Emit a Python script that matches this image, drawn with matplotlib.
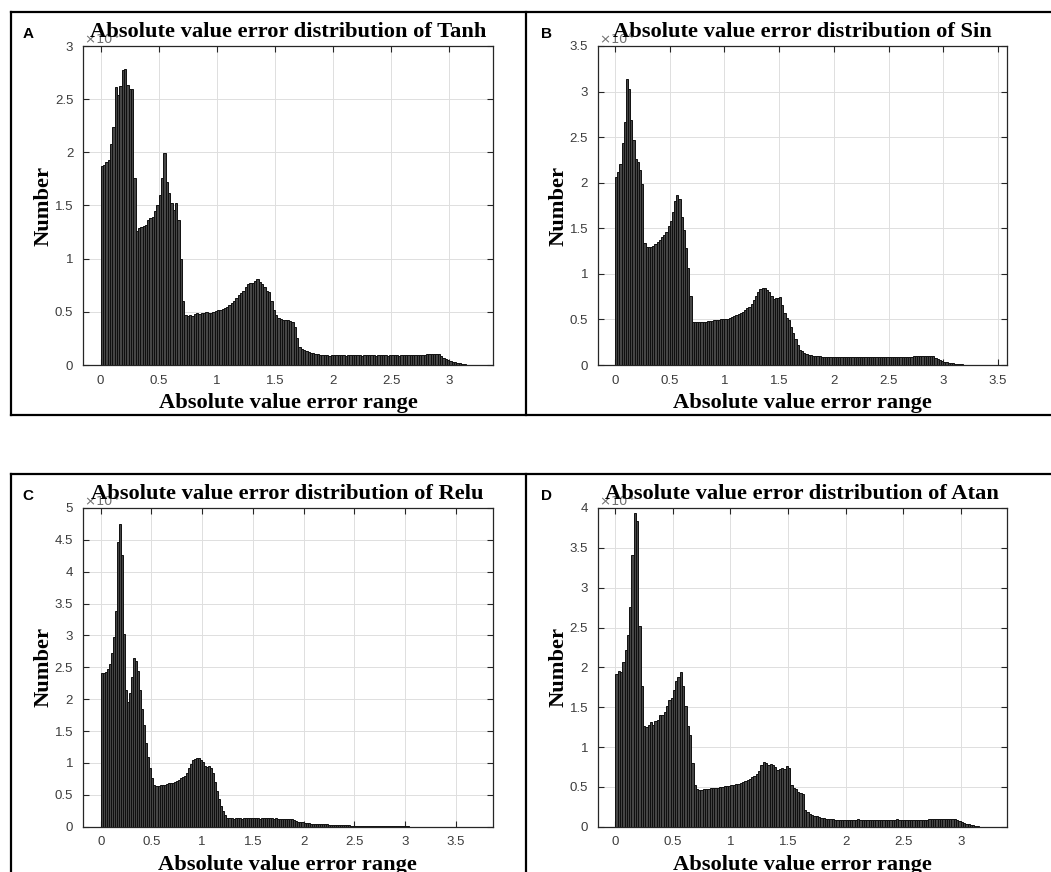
import numpy as np
import matplotlib
matplotlib.use('Agg')
import matplotlib.pyplot as plt
from matplotlib.lines import Line2D

W, H = 1051, 872
bin_w = 0.02

# bin heights, units of 1e4, bins start at 0 with width 0.02
tanh_counts = [
    1.87, 1.88, 1.91, 1.93, 2.08, 2.24, 2.61, 2.54, 2.62, 2.77, 2.78, 2.63, 2.60, 2.60, 1.76,
    1.26, 1.29, 1.30, 1.31, 1.32, 1.36, 1.38, 1.39, 1.45, 1.50, 1.60, 1.76, 1.99, 1.72, 1.62,
    1.52, 1.46, 1.52, 1.36, 1.00, 0.60,
    0.47, 0.465, 0.47, 0.465, 0.48, 0.49, 0.48, 0.485, 0.49, 0.50, 0.49, 0.49, 0.50, 0.51,
    0.52, 0.52, 0.53, 0.54, 0.55, 0.56, 0.58, 0.60, 0.63, 0.66, 0.68, 0.70, 0.73, 0.76,
    0.77, 0.77, 0.79, 0.81, 0.78, 0.76, 0.73, 0.70, 0.69, 0.60, 0.52, 0.47, 0.44, 0.43,
    0.42, 0.42, 0.42, 0.41, 0.40, 0.36, 0.25, 0.17, 0.15, 0.14, 0.13, 0.12, 0.115, 0.11,
    0.10, 0.10, 0.095,
    0.09, 0.09, 0.09, 0.088, 0.09, 0.09, 0.092, 0.09, 0.09,
    0.09, 0.089, 0.09, 0.09, 0.09, 0.091, 0.09, 0.09, 0.088,
    0.09, 0.09, 0.09, 0.09, 0.09, 0.087, 0.09, 0.09, 0.09,
    0.09, 0.088, 0.09, 0.09, 0.09, 0.09, 0.089, 0.09, 0.09,
    0.09, 0.09, 0.09, 0.09, 0.091, 0.09, 0.09, 0.092, 0.095,
    0.10, 0.10, 0.10, 0.10, 0.10, 0.10,
    0.085, 0.07, 0.055, 0.045, 0.04, 0.03, 0.025, 0.02, 0.015, 0.01, 0.005, 0.003,
]

sin_counts = [
    2.06, 2.12, 2.21, 2.44, 2.67, 3.14, 3.03, 2.69, 2.47, 2.26, 2.23, 2.14, 1.99, 1.34,
    1.30, 1.29, 1.29, 1.31, 1.33, 1.35, 1.37, 1.40, 1.43, 1.46, 1.52, 1.58, 1.68, 1.80,
    1.86, 1.82, 1.62, 1.48, 1.28, 1.06, 0.76, 0.47,
    0.47, 0.47, 0.47, 0.47, 0.475, 0.475, 0.48, 0.48, 0.48, 0.49, 0.49, 0.49, 0.50, 0.50,
    0.51, 0.51, 0.52, 0.53, 0.54, 0.55, 0.56, 0.57, 0.58, 0.60, 0.62, 0.64, 0.67, 0.71,
    0.76, 0.80, 0.83, 0.84, 0.84, 0.82, 0.80, 0.76, 0.72, 0.74, 0.74, 0.75, 0.66, 0.57,
    0.52, 0.49, 0.42, 0.35, 0.28, 0.22, 0.17, 0.15, 0.13, 0.12, 0.115, 0.11, 0.10, 0.10,
    0.095, 0.095, 0.09,
    0.09, 0.09, 0.088, 0.09, 0.09, 0.09, 0.091, 0.09, 0.09,
    0.089, 0.09, 0.09, 0.09, 0.09, 0.088, 0.09, 0.09, 0.09,
    0.09, 0.09, 0.09, 0.089, 0.09, 0.09, 0.09, 0.09, 0.088,
    0.09, 0.09, 0.09, 0.09, 0.09, 0.09, 0.091, 0.09, 0.09,
    0.09, 0.09, 0.092, 0.09, 0.09, 0.095, 0.095,
    0.10, 0.10, 0.10, 0.10, 0.10, 0.10, 0.10, 0.10,
    0.08, 0.065, 0.05, 0.04, 0.035, 0.03, 0.025, 0.02, 0.017, 0.014, 0.011, 0.008, 0.006,
    0.004, 0.003,
]

relu_counts = [
    2.41, 2.41, 2.42, 2.47, 2.56, 2.73, 2.98, 3.39, 4.46, 4.75, 4.27, 3.02, 2.14, 1.95,
    2.10, 2.35, 2.65, 2.60, 2.45, 2.15, 1.85, 1.60, 1.32, 1.10, 0.92, 0.77, 0.66, 0.64,
    0.64, 0.65, 0.65, 0.66, 0.67, 0.68, 0.68, 0.69, 0.70, 0.72, 0.74, 0.76, 0.78, 0.80,
    0.84, 0.92, 0.99, 1.04, 1.06, 1.07, 1.07, 1.05, 1.01, 0.95, 0.94, 0.96, 0.92, 0.84,
    0.70, 0.56, 0.44, 0.33, 0.25, 0.18, 0.14,
    0.13, 0.13, 0.125, 0.13, 0.13, 0.13, 0.128, 0.13, 0.13, 0.13, 0.132, 0.13, 0.13,
    0.13, 0.13, 0.128, 0.13, 0.13, 0.13, 0.13, 0.13, 0.13, 0.128, 0.13, 0.125, 0.125,
    0.125, 0.125, 0.125, 0.12, 0.12, 0.115,
    0.11, 0.09, 0.08, 0.07, 0.07, 0.06, 0.06, 0.055, 0.05, 0.05, 0.045, 0.045, 0.04,
    0.04, 0.038, 0.036, 0.035,
    0.03, 0.03, 0.028, 0.027, 0.026, 0.025, 0.025, 0.024, 0.022, 0.02, 0.02, 0.018, 0.016,
    0.012, 0.012, 0.012, 0.013, 0.012, 0.012, 0.012, 0.011, 0.012, 0.012, 0.012, 0.012,
    0.011, 0.012, 0.012, 0.012, 0.011, 0.011, 0.011, 0.011, 0.01, 0.01, 0.01,
    0.016, 0.018, 0.016, 0.012,
]

atan_counts = [
    1.92, 1.95, 1.94, 2.07, 2.22, 2.41, 2.76, 3.41, 3.94, 3.84, 2.52, 1.76, 1.27, 1.25,
    1.28, 1.31, 1.28, 1.33, 1.34, 1.40, 1.40, 1.44, 1.51, 1.59, 1.62, 1.72, 1.83, 1.88,
    1.94, 1.76, 1.51, 1.26, 1.15, 0.80, 0.52, 0.47,
    0.46, 0.46, 0.47, 0.47, 0.475, 0.48, 0.48, 0.49, 0.49, 0.50, 0.50, 0.505, 0.51, 0.51,
    0.52, 0.52, 0.53, 0.54, 0.55, 0.56, 0.57, 0.58, 0.60, 0.62, 0.64, 0.66, 0.70, 0.78,
    0.81, 0.80, 0.78, 0.79, 0.77, 0.75, 0.71, 0.73, 0.74, 0.73, 0.76, 0.74, 0.52, 0.49,
    0.47, 0.44, 0.42, 0.41, 0.21, 0.18, 0.16, 0.15, 0.14, 0.13, 0.12, 0.115, 0.11, 0.10,
    0.10, 0.095, 0.095,
    0.09, 0.09, 0.09, 0.09, 0.088, 0.09, 0.09, 0.09, 0.09,
    0.09, 0.10, 0.09, 0.09, 0.09, 0.089, 0.09, 0.09, 0.09,
    0.09, 0.09, 0.088, 0.09, 0.09, 0.09, 0.09, 0.09, 0.09,
    0.091, 0.09, 0.09, 0.09, 0.09, 0.089, 0.09, 0.09, 0.09,
    0.09, 0.09, 0.09, 0.09, 0.09, 0.092, 0.095,
    0.10, 0.10, 0.10, 0.10, 0.10, 0.10, 0.10, 0.10, 0.10, 0.10,
    0.085, 0.07, 0.055, 0.045, 0.035, 0.03, 0.025, 0.018, 0.012, 0.008,
]

panels = [
    # letter, name, counts, xmax tick, xlim, ymax, axes box in px (left, top, right, bottom)
    ('A', 'Tanh', tanh_counts, 3.0, (-0.152, 3.376), 3.0, (83, 46, 493, 365)),
    ('B', 'Sin', sin_counts, 3.5, (-0.158, 3.58), 3.5, (597.7, 46, 1006.7, 365)),
    ('C', 'Relu', relu_counts, 3.5, (-0.178, 3.866), 5.0, (82.7, 508, 492.7, 826.7)),
    ('D', 'Atan', atan_counts, 3.0, (-0.153, 3.40), 4.0, (597.7, 508, 1006.7, 826.7)),
]

serif = 'Liberation Serif'
sans = 'Liberation Sans'
tick_col = '#3c3c3c'
big = 16.2


def fx(x):
    return x / W


def fy(y):
    return 1 - y / H


def fmt(v):
    return ('%g' % v)


fig = plt.figure(figsize=(W / 100, H / 100), dpi=100)

for letter, name, counts, xtmax, xlim, ymax, (l, t, r, b) in panels:
    ax = fig.add_axes([fx(l), fy(b), (r - l) / W, (b - t) / H])
    counts = np.array(counts)
    edges = np.arange(len(counts)) * bin_w
    ax.bar(edges, counts, width=bin_w, align='edge', color='#464646',
           edgecolor='#101010', linewidth=0.7, zorder=2)
    ax.set_xlim(*xlim)
    ax.set_ylim(0, ymax)
    xt = np.arange(0, xtmax + 0.01, 0.5)
    yt = np.arange(0, ymax + 0.01, 0.5)
    ax.set_xticks(xt)
    ax.set_yticks(yt)
    ax.set_xticklabels([fmt(v) for v in xt])
    ax.set_yticklabels([fmt(v) for v in yt])
    ax.grid(True, color='#dedede', linewidth=0.7, zorder=0)
    ax.set_axisbelow(True)
    ax.tick_params(direction='in', length=4, width=0.8, top=True, right=True,
                   colors='#262626', labelcolor=tick_col, labelsize=9.5, pad=7)
    for lab in ax.get_xticklabels() + ax.get_yticklabels():
        lab.set_fontfamily(sans)
    for sp in ax.spines.values():
        sp.set_color('#262626')
        sp.set_linewidth(0.9)

    cx = (l + r) / 2
    # exponent label
    fig.text(fx(l + 1), fy(t - 2), r'$\times10^{4}$', color='#707070', fontsize=9.5,
             family=sans, ha='left', va='baseline')
    fig.text(fx(cx), fy(t - 9), 'Absolute value error distribution of ' + name,
             family=serif, weight='bold', fontsize=big, ha='center', va='baseline')
    fig.text(fx(cx), fy(b + 43), 'Absolute value error range',
             family=serif, weight='bold', fontsize=big, ha='center', va='baseline')
    fig.text(fx(l - 39), fy((t + b) / 2), 'Number', rotation=90,
             family=serif, weight='bold', fontsize=big, ha='center', va='center')
    fig.text(fx(l - 60 if l < 300 else l - 57), fy(t - 8), letter, family=sans,
             weight='bold', fontsize=11, ha='left', va='baseline')

# panel frames
lw = 1.6
for y0, y1 in [(12, 415.5), (474, 880)]:
    fig.add_artist(Line2D([fx(11), 1], [fy(y0), fy(y0)], color='black', lw=lw))
    if y1 < H:
        fig.add_artist(Line2D([fx(11), 1], [fy(y1), fy(y1)], color='black', lw=lw))
    for xv in (11, 526):
        fig.add_artist(Line2D([fx(xv), fx(xv)], [fy(y0), fy(y1)], color='black', lw=lw))

fig.savefig('out.png', dpi=100)
